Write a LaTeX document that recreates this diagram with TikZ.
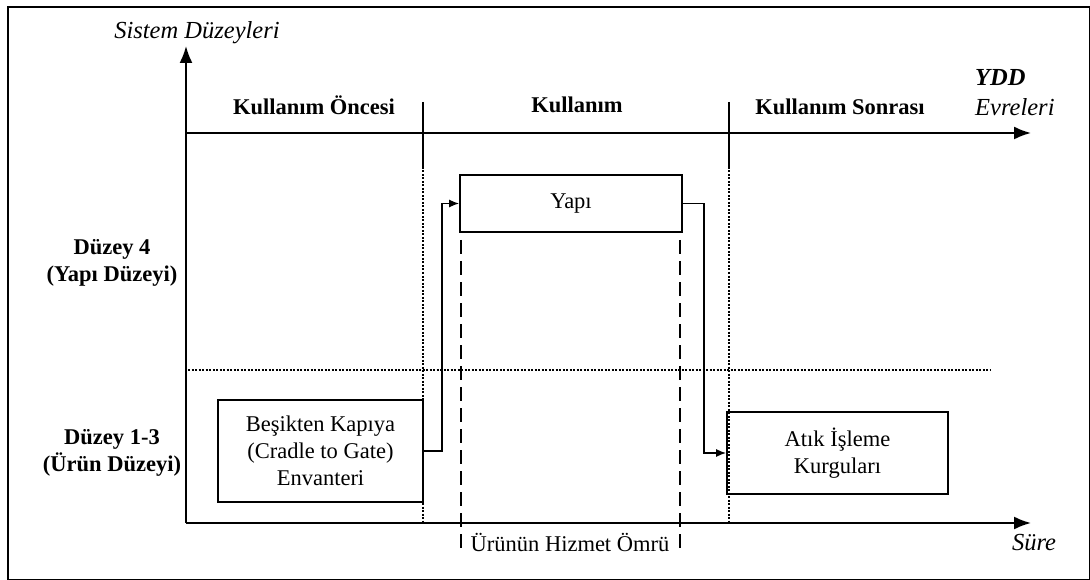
\documentclass[tikz,border=0pt]{standalone}
\usepackage{fontspec}
\setmainfont{Liberation Serif}
\usetikzlibrary{arrows.meta}
\begin{document}
\begin{tikzpicture}[x=1pt,y=-1pt,
  txt/.style={font=\fontsize{22.5}{27}\selectfont, inner sep=0pt, align=center},
  btxt/.style={txt, font=\fontsize{22.5}{27}\selectfont\bfseries},
  itxt/.style={txt, font=\fontsize{24.5}{29}\selectfont\itshape},
  box/.style={draw, line width=1.6pt, inner sep=0pt, align=center, font=\fontsize{22.5}{27}\selectfont},
  axis/.style={line width=1.9pt, -{Latex[length=17pt,width=13pt]}},
  conn/.style={line width=1.6pt, -{Latex[length=10pt,width=8pt]}},
  sepline/.style={line width=1.5pt},
  dotline/.style={line width=1.5pt, dash pattern=on 2pt off 1.5pt},
  dashline/.style={line width=1.7pt, dash pattern=on 14pt off 7pt}]
\useasboundingbox (0,0) rectangle (1090,580);
% frame
\draw[line width=1.2pt] (8,7) rectangle (1089.4,579.4);

% axes
\coordinate (O) at (186,523);
\coordinate (Ytop) at (186,46);
\coordinate (Xend) at (1031,523);
\coordinate (T0) at (186,133);
\coordinate (Tend) at (1031,133);
\draw[axis] (O) -- (Ytop);
\draw[axis] (O) -- (Xend);
\draw[axis] (T0) -- (Tend);

% phase separators
\coordinate (s1a) at (423,102);
\coordinate (s1b) at (423,167);
\coordinate (s1c) at (423,523);
\coordinate (s2a) at (729,102);
\coordinate (s2b) at (729,167);
\coordinate (s2c) at (729,523);
\draw[sepline] (s1a) -- (s1b);
\draw[sepline] (s2a) -- (s2b);
\draw[dotline] (s1b) -- (s1c);
\draw[dotline] (s2b) -- (s2c);

% level separator
\coordinate (h1) at (188,370);
\coordinate (h2) at (990,370);
\draw[dotline] (h1) -- (h2);

% boxes
\node[box, minimum width=222pt, minimum height=57pt] (yapi) at (571,203.5) {Yapı};
\node[box, minimum width=205pt, minimum height=102pt] (bes) at (320.5,451) {Beşikten Kapıya\\(Cradle to Gate)\\Envanteri};
\node[box, minimum width=221pt, minimum height=82pt] (atik) at (837.5,453) {Atık İşleme\\Kurguları};

% service life dashed lines
\coordinate (d1a) at (461,240);
\coordinate (d1b) at (461,555);
\coordinate (d2a) at (680,240);
\coordinate (d2b) at (680,555);
\draw[dashline] (d1a) -- (d1b);
\draw[dashline] (d2a) -- (d2b);

% connectors
\draw[conn] (bes.east) -- ++(18,0) |- (yapi.west);
\draw[conn] (yapi.east) -- ++(21,0) |- (atik.west);

% labels
\node[itxt] (sisdz) at (197,33) {Sistem Düzeyleri};
\node[btxt] (ph1) at (314,105) {Kullanım Öncesi};
\node[btxt] (ph2) at (577,105) {Kullanım};
\node[btxt] (ph3) at (840,107) {Kullanım Sonrası};
\node[txt, anchor=west, align=left, font=\fontsize{24.5}{30}\selectfont] (ydd) at (975,93) {\bfseries\itshape YDD\\\itshape Evreleri};
\node[btxt] (lv4) at (112,263) {Düzey 4\\(Yapı Düzeyi)};
\node[btxt] (lv13) at (112,453) {Düzey 1-3\\(Ürün Düzeyi)};
\node[txt] (hizmet) at (570,542) {Ürünün Hizmet Ömrü};
\node[itxt] (sure) at (1034,543) {Süre};
\end{tikzpicture}
\end{document}
